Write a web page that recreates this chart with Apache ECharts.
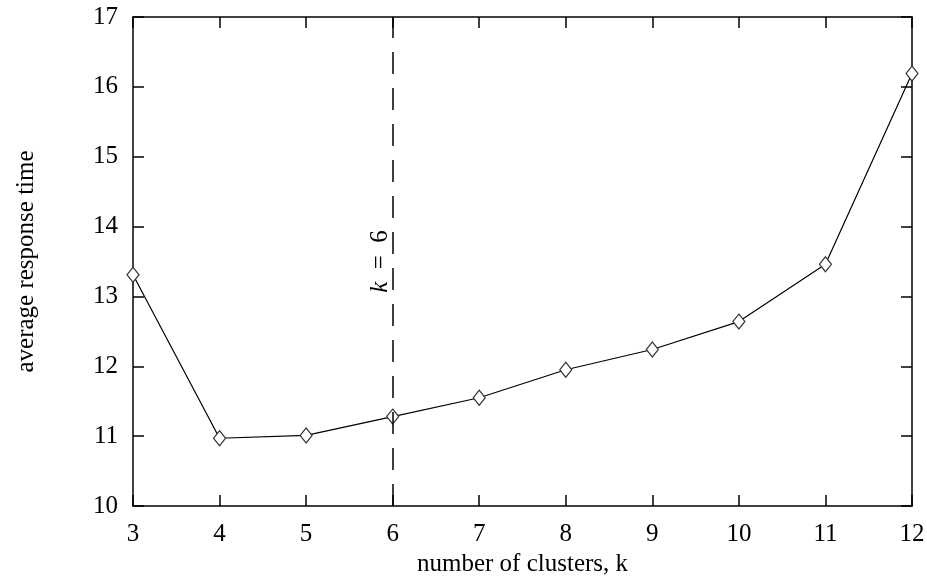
<!DOCTYPE html>
<html>
<head>
<meta charset="utf-8">
<script src="https://cdn.jsdelivr.net/npm/echarts@6/dist/echarts.min.js"></script>
</head>
<body style="margin:0">
<div id="chart" style="width:927px;height:577px"></div>
<script>
var clusters = [3, 4, 5, 6, 7, 8, 9, 10, 11, 12];
var responseTime = [13.31, 10.97, 11.01, 11.28, 11.55, 11.95, 12.24, 12.64, 13.46, 16.19];
var chosenK = 6;

var font = 'Liberation Serif';
var chart = echarts.init(document.getElementById('chart'));

var axisCommon = {
    type: 'value',
    axisLine: { show: true, lineStyle: { color: '#000', width: 1.5 } },
    axisTick: { show: true, inside: true, length: 11, lineStyle: { color: '#000', width: 1.5 } },
    splitLine: { show: false },
    axisLabel: { color: '#000', fontFamily: font, fontSize: 25 }
};

chart.setOption({
    animation: false,
    backgroundColor: '#fff',
    grid: { left: 133, right: 15, top: 17, bottom: 71, outerBoundsMode: 'none' },
    xAxis: [
        Object.assign({}, axisCommon, {
            min: 3, max: 12, interval: 1,
            name: 'number of clusters, k',
            nameLocation: 'middle', nameGap: 44,
            nameTextStyle: { color: '#000', fontFamily: font, fontSize: 25 },
            axisLabel: Object.assign({}, axisCommon.axisLabel, { margin: 16 })
        }),
        Object.assign({}, axisCommon, {
            position: 'top', min: 3, max: 12, interval: 1,
            axisLabel: { show: false }
        })
    ],
    yAxis: [
        Object.assign({}, axisCommon, {
            min: 10, max: 17, interval: 1,
            name: 'average response time',
            nameLocation: 'middle', nameGap: 94,
            nameTextStyle: { color: '#000', fontFamily: font, fontSize: 25 },
            axisLabel: Object.assign({}, axisCommon.axisLabel, { margin: 15 })
        }),
        Object.assign({}, axisCommon, {
            position: 'right', min: 10, max: 17, interval: 1,
            axisLabel: { show: false }
        })
    ],
    series: [{
        type: 'line',
        data: clusters.map(function (k, i) { return [k, responseTime[i]]; }),
        symbol: 'diamond',
        symbolSize: [12, 15],
        showAllSymbol: true,
        lineStyle: { color: '#000', width: 1.2 },
        itemStyle: { color: '#fff', borderColor: '#333', borderWidth: 1.2 },
        markLine: {
            silent: true,
            symbol: 'none',
            lineStyle: { color: '#000', type: [22, 14], width: 1.5 },
            label: {
                show: true,
                position: 'insideMiddleTop',
                distance: 0,
                formatter: '{i|k}  =  6',
                color: '#000',
                fontFamily: font,
                fontSize: 25,
                rich: { i: { fontStyle: 'italic', fontFamily: font, fontSize: 25 } }
            },
            data: [{ xAxis: chosenK }]
        }
    }]
});
</script>
</body>
</html>
